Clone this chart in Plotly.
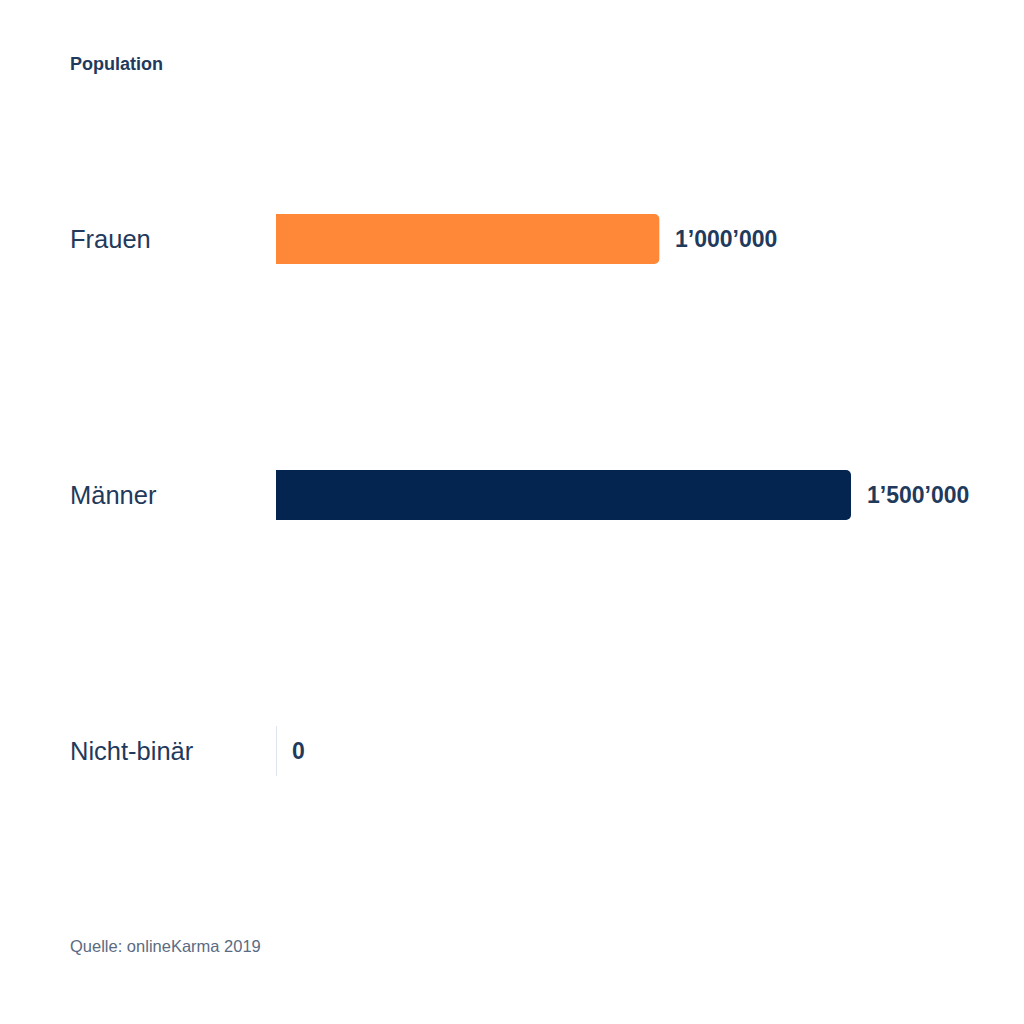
import plotly.graph_objects as go

categories = ["Frauen", "Männer", "Nicht-binär"]
values = [1000000, 1500000, 0]
bar_colors = ["#FF8838", "#03254F", "#03254F"]
title_text = "Population"
source_text = "Quelle: onlineKarma 2019"

W, H = 1024, 1024
ML, MR, MT, MB = 276, 24, 111, 145
plot_w = W - ML - MR
plot_h = H - MT - MB
longest_bar_px = 575
xmax = max(values) * plot_w / longest_bar_px
bar_w = 50 / (plot_h / len(categories))

def fmt(v):
    return f"{v:,}".replace(",", "\u2019")

label_color = "#1F3A5C"
font_family = "Liberation Sans, Arial, sans-serif"

fig = go.Figure()
fig.add_trace(go.Bar(
    x=values, y=categories, orientation="h",
    marker=dict(color=bar_colors, line=dict(width=0)),
    width=bar_w, hoverinfo="skip",
))

label_x = (70 - ML) / plot_w
annotations = []
shapes = []
for i, (c, v) in enumerate(zip(categories, values)):
    annotations.append(dict(
        x=label_x, xref="paper", y=c, yref="y", text=c, showarrow=False,
        xanchor="left", yanchor="middle", xshift=-2,
        font=dict(size=25.5, color=label_color, family=font_family),
    ))
    annotations.append(dict(
        x=v, xref="x", y=c, yref="y", text="<b>" + fmt(v) + "</b>", showarrow=False,
        xanchor="left", yanchor="middle", xshift=14,
        font=dict(size=23, color=label_color, family=font_family),
    ))
    if v == 0:
        shapes.append(dict(
            type="line", xref="x", yref="y", x0=0, x1=0,
            y0=i - bar_w / 2, y1=i + bar_w / 2,
            line=dict(color="#D3DDE9", width=1.5),
        ))

annotations.append(dict(
    x=label_x, xref="paper", y=-(946 - (H - MB)) / plot_h, xshift=-2,
    yref="paper", text=source_text, showarrow=False, xanchor="left", yanchor="middle",
    font=dict(size=16.5, color="#5B6B82", family=font_family),
))

fig.update_layout(
    width=W, height=H,
    margin=dict(l=ML, r=MR, t=MT, b=MB),
    paper_bgcolor="white", plot_bgcolor="white",
    showlegend=False,
    barcornerradius=5,
    title=dict(text="<b>" + title_text + "</b>", x=70 / W, xref="container", xanchor="left",
               y=1 - 64 / H, yref="container", yanchor="middle",
               font=dict(size=18, color=label_color, family=font_family)),
    xaxis=dict(range=[0, xmax], showgrid=False, zeroline=False, showticklabels=False,
               showline=False, fixedrange=True),
    yaxis=dict(categoryorder="array", categoryarray=categories,
               range=[len(categories) - 0.5, -0.5],
               showgrid=False, zeroline=False, showticklabels=False, showline=False),
    annotations=annotations,
    shapes=shapes,
)

fig.write_html("out.html", config={"displayModeBar": False},
               post_script="document.body.style.margin='0';document.body.style.padding='0';")
